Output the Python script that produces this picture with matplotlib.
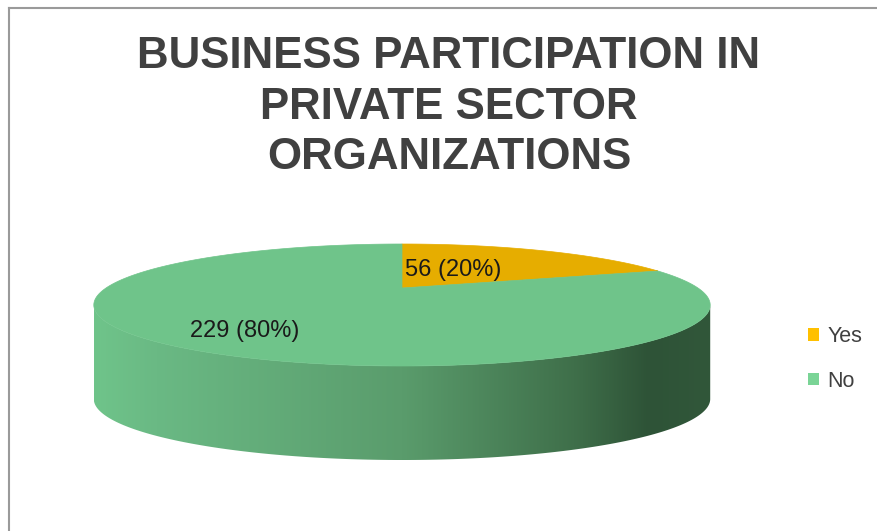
import numpy as np
import matplotlib
matplotlib.use("Agg")
import matplotlib.pyplot as plt
from matplotlib.patches import Polygon, Patch
from matplotlib.colors import LinearSegmentedColormap
from matplotlib.lines import Line2D

plt.rcParams["font.family"] = ["Liberation Sans", "DejaVu Sans"]

# data
categories = ["Yes", "No"]
counts = [56, 229]
top_colors = ["#E6AD00", "#6FC48A"]
legend_colors = ["#FFC000", "#7AD496"]
title = "BUSINESS PARTICIPATION IN\nPRIVATE SECTOR\nORGANIZATIONS"

W, H = 878, 531
fig = plt.figure(figsize=(W / 100, H / 100), dpi=100)
ax = fig.add_axes([0, 0, 1, 1])
ax.set_xlim(0, W)
ax.set_ylim(H, 0)
ax.axis("off")

# pseudo-3D pie geometry (pixel coords, y down)
CX, A_RAD = 402, 296          # centre x, horizontal radius
K = 0.2787                    # perspective factor
PA, PB = 24.0, 288.0          # projective y mapping
DEPTH = 94


def proj(t_deg, z=0.0):
    t = np.radians(t_deg)
    u, v = np.cos(t), np.sin(t)
    d = 1 + K * v
    return CX + A_RAD * u / d, (PA * v + PB) / d + z


centre = (CX, PB)
total = float(sum(counts))
start = 90.0
spans = []
for c in counts:
    sweep = 360.0 * c / total
    spans.append((start - sweep, start))  # clockwise from 12 o'clock
    start -= sweep

# side wall (visible from sin t = -K on both sides)
vis_lo = 180 + np.degrees(np.arcsin(K))
vis_hi = 360 - np.degrees(np.arcsin(K))
ts = np.linspace(vis_lo, vis_hi, 200)
top_x, top_y = proj(ts)
bot_x, bot_y = proj(ts[::-1], DEPTH)
side_pts = np.column_stack([np.r_[top_x, bot_x], np.r_[top_y, bot_y]])
side = Polygon(side_pts, closed=True, facecolor="none", edgecolor="none")
ax.add_patch(side)
side_cmap = LinearSegmentedColormap.from_list(
    "side", [(0, "#6FC48A"), (0.1, "#6AB984"), (0.5, "#5A9C6C"),
             (0.78, "#3F6F4A"), (0.9, "#2E5337"), (1.0, "#31573A")])
grad = np.linspace(0, 1, 256).reshape(1, -1)
x0, x1 = side_pts[:, 0].min(), side_pts[:, 0].max()
y0, y1 = side_pts[:, 1].min(), side_pts[:, 1].max()
im = ax.imshow(grad, cmap=side_cmap, extent=[x0, x1, y1, y0], aspect="auto", zorder=1)
im.set_clip_path(side)

# top faces
for (a0, a1), col in zip(spans, top_colors):
    tt = np.linspace(a0, a1, 200)
    px, py = proj(tt)
    pts = np.column_stack([np.r_[centre[0], px], np.r_[centre[1], py]])
    ax.add_patch(Polygon(pts, closed=True, facecolor=col, edgecolor=col, lw=0.5, zorder=2))

# data labels
label_pos = [(405, 270), (190, 331)]
for c, (lx, ly) in zip(counts, label_pos):
    ax.text(lx, ly, f"{c} ({c / total:.0%})", fontsize=17, color="#1a1a1a",
            ha="left", va="center", zorder=3)

# title
fig.text(449 / W, 1 - 36 / H, title, ha="center", va="top", fontsize=31.6,
         fontweight="bold", color="#404040", linespacing=1.3)

# legend
handles = [Patch(facecolor=c, edgecolor="none") for c in legend_colors]
fig.legend(handles, categories, loc="center left", bbox_to_anchor=(789 / W, 1 - 359 / H),
           frameon=False, fontsize=15.5, handlelength=0.5, handleheight=0.5,
           handletextpad=0.4, labelspacing=1.1, labelcolor="#404040")

# chart border
border = "#9a9a9a"
fig.add_artist(Line2D([9 / W, 9 / W], [0, 1 - 8 / H], color=border, lw=1.5))
fig.add_artist(Line2D([9 / W, 1], [1 - 8 / H, 1 - 8 / H], color=border, lw=1.5))

fig.savefig("out.png", dpi=100)
